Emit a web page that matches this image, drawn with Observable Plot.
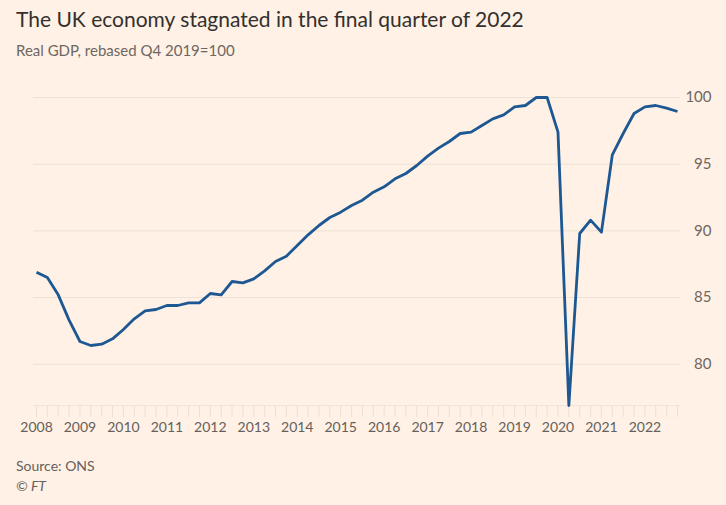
<!DOCTYPE html>
<html>
<head>
<meta charset="utf-8">
<script src="https://cdn.jsdelivr.net/npm/d3@7"></script>
<script src="https://cdn.jsdelivr.net/npm/@observablehq/plot@0.6"></script>
<style>
  html, body { margin: 0; padding: 0; background: #FFF1E5; }
  body { width: 726px; height: 505px; position: relative; overflow: hidden; font-family: Lato, "Noto Sans", sans-serif; }
  #title { position: absolute; left: 16px; top: 6px; font-size: 21px; color: #33302E; line-height: 26px; white-space: nowrap; }
  #subtitle { position: absolute; left: 16px; top: 40px; font-size: 15px; color: #6E6762; line-height: 20px; white-space: nowrap; }
  #chart { position: absolute; left: 0; top: 70px; }
  #source { position: absolute; left: 16px; top: 457px; font-size: 14px; color: #66605C; line-height: 18px; }
  #ft { position: absolute; left: 16px; top: 477px; font-size: 14px; color: #66605C; line-height: 18px; font-style: italic; }
</style>
</head>
<body>
<div id="title">The UK economy stagnated in the final quarter of 2022</div>
<div id="subtitle">Real GDP, rebased Q4 2019=100</div>
<div id="chart"></div>
<div id="source">Source: ONS</div>
<div id="ft">© FT</div>
<script>
// Quarterly real GDP, Q4 2019 = 100, from 2008 Q1 to 2022 Q4
const startYear = 2008;
const gdp = [
  86.9, 86.5, 85.2, 83.3,   // 2008
  81.7, 81.4, 81.5, 81.9,   // 2009
  82.6, 83.4, 84.0, 84.1,   // 2010
  84.4, 84.4, 84.6, 84.6,   // 2011
  85.3, 85.2, 86.2, 86.1,   // 2012
  86.4, 87.0, 87.7, 88.1,   // 2013
  88.9, 89.7, 90.4, 91.0,   // 2014
  91.4, 91.9, 92.3, 92.9,   // 2015
  93.3, 93.9, 94.3, 94.9,   // 2016
  95.6, 96.2, 96.7, 97.3,   // 2017
  97.4, 97.9, 98.4, 98.7,   // 2018
  99.3, 99.4, 100.0, 100.0, // 2019
  97.4, 76.9, 89.8, 90.8,   // 2020
  89.9, 95.7, 97.3, 98.8,   // 2021
  99.3, 99.4, 99.2, 98.95   // 2022
];
const yearLabels = [2008, 2009, 2010, 2011, 2012, 2013, 2014, 2015, 2016, 2017, 2018, 2019, 2020, 2021, 2022];
const yTicks = [80, 85, 90, 95, 100];
const yMin = 76.9, yMax = 100;

const data = gdp.map((v, i) => ({t: startYear + i / 4, v}));
const quarterTicks = data.map(d => d.t);
const xDomain = [data[0].t, data[data.length - 1].t];

const chart = Plot.plot({
  width: 726,
  height: 372,
  marginLeft: 36,
  marginRight: 49,
  marginTop: 27,
  marginBottom: 37,
  style: {background: "transparent", fontFamily: "Lato, 'Noto Sans', sans-serif", color: "#66605C", overflow: "visible"},
  x: {domain: xDomain},
  y: {domain: [yMin, yMax]},
  marks: [
    Plot.ruleY(yTicks, {y: d => d, stroke: "#EEE1D5", strokeWidth: 1, insetLeft: -3, insetRight: -3}),
    Plot.ruleY([yMin], {stroke: "#F1E4D8", strokeWidth: 1, insetLeft: -3, insetRight: -3}),
    Plot.axisX({ticks: quarterTicks, tickSize: 12, stroke: "#ECDFD3", strokeOpacity: 1, tickFormat: () => "", label: null}),
    Plot.axisX({ticks: yearLabels, tickSize: 0, tickPadding: 17, tickFormat: d => String(d), fontSize: 14, fill: "#66605C", label: null}),
    Plot.axisY({ticks: yTicks, anchor: "right", tickSize: 0, tickPadding: 34, textAnchor: "end", fontSize: 15, fill: "#6E6762", label: null}),
    Plot.line(data, {x: "t", y: "v", stroke: "#1D5893", strokeWidth: 2.8, strokeLinejoin: "round", strokeLinecap: "butt"})
  ]
});
document.getElementById("chart").appendChild(chart);
</script>
</body>
</html>
